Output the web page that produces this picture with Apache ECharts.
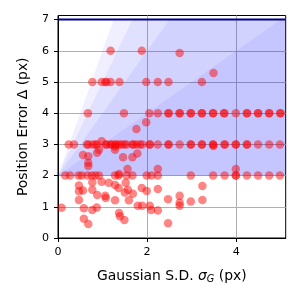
<!DOCTYPE html>
<html><head><meta charset="utf-8">
<script src="https://cdn.jsdelivr.net/npm/echarts@6/dist/echarts.min.js"></script>
<style>html,body{margin:0;padding:0;background:#fff}#c{width:300px;height:300px}</style>
</head><body><div id="c"></div>
<script>
// ---- data ----
const xTicks = [0, 2, 4];
const yTicks = [0, 1, 2, 3, 4, 5, 6, 7];
const xMax = 5.11, yMax = 7.13;
const baseLevel = 2;      // lower edge of shaded wedges
const capLevel = 7;       // horizontal limit line
const wedgeSlopes = [1, 2, 3, 4];
const xs = [
  1.18,1.88,2.73,3.49,
  0.77,0.98,1.06,1.09,1.18,1.38,1.98,2.24,2.48,3.23,
  0.67,1.48,2.05,2.24,2.48,2.48,2.73,2.73,2.98,2.98,3.23,3.23,3.48,3.48,3.73,3.73,3.99,4.24,4.24,4.49,4.49,4.74,4.74,4.99,4.99,
  1.76,1.98,
  0.24,0.36,0.65,0.68,0.78,0.84,0.88,0.98,1.07,1.09,1.18,1.2,1.28,1.31,1.37,1.43,1.49,1.54,1.67,1.69,1.76,1.84,1.89,2.06,2.06,2.24,2.48,2.48,2.73,2.98,2.98,3.23,3.23,3.48,3.48,3.49,3.74,3.74,3.99,3.99,4.24,4.24,4.49,4.74,4.98,1.28,
  0.56,0.68,0.68,0.68,0.88,0.92,1.28,1.46,1.56,1.67,1.78,1.37,2.24,3.99,
  0.16,0.27,0.46,0.53,0.66,0.76,0.84,0.92,1.28,1.36,1.54,1.67,1.99,2.1,2.24,2.98,3.48,3.74,3.99,3.99,4.24,4.49,4.74,4.98,
  0.08,0.47,0.47,0.47,0.56,0.58,0.58,0.68,0.77,0.77,0.77,0.87,0.88,0.98,1.06,1.07,1.14,1.28,1.28,1.36,1.37,1.39,1.49,1.5,1.52,1.57,1.59,1.68,1.79,1.89,1.88,1.99,2.06,2.09,2.24,2.24,2.47,2.47,2.73,2.73,2.73,2.98,3.24,3.24
];
const ys = [
  6,6,5.93,5.29,
  5,5,5,5,5,5,5,5,5,5,
  4,4,4,4,4,4,4,4,4,4,4,4,4,4,4,4,4,4,4,4,4,4,4,4,4,
  3.49,3.71,
  3,3,3,3,3,3,3,3.1,3,3,3,3,3,3,3,3,3,3,3,3,3,3,3,3,3,3,3,3,3,3,3,3,3,3,3,2.95,3,3,3,3,3,3,3,3,3,2.93,
  2.66,2.62,2.41,2.31,2.73,2.83,2.83,2.59,2.21,2.59,2.71,2.05,2.21,2.21,
  2,2,2,2,2,2,2,2,2,2,2,2,2,2,2,2,2,2,2,2,2,2,2,2,
  0.97,1.68,1.5,1.22,1.52,0.95,0.62,0.45,1.79,1.55,0.9,0.98,1.38,1.8,1.35,1.28,1.77,1.7,1.21,1.6,0.8,0.7,0.58,1.46,1.77,1.55,1.21,1.42,1.03,1.03,1.6,1.51,1.03,0.9,1.57,0.88,1.24,0.47,1.35,1.13,1.03,1.17,1.67,1.22
];
// ---- chart ----
const pts = xs.map((x, i) => [x, ys[i]]);
const wedgeSeries = wedgeSlopes.map(k => ({
  type: 'line', silent: true, symbol: 'none', z: 1,
  data: [[0, baseLevel], [(capLevel - baseLevel) / k, capLevel], [xMax, capLevel]],
  lineStyle: { width: 0, opacity: 0 },
  areaStyle: { origin: baseLevel, color: 'rgba(0,0,255,0.09)' }
}));
const font = 'DejaVu Sans';
const tickFs = 11.1, nameFs = 13.9;
const chart = echarts.init(document.getElementById('c'), null, { renderer: 'canvas' });
chart.setOption({
  animation: false,
  grid: { left: 58, right: 14.3, top: 15.5, bottom: 62, show: true, borderColor: '#000', borderWidth: 1, backgroundColor: 'transparent' },
  xAxis: {
    type: 'value', min: 0, max: xMax, interval: 2,
    axisLine: { onZero: false, lineStyle: { color: '#000', width: 1 } },
    axisTick: { customValues: xTicks, length: 4, lineStyle: { color: '#000' } },
    axisLabel: { customValues: xTicks, margin: 9, color: '#000', fontSize: tickFs, fontFamily: font },
    splitLine: { show: true, lineStyle: { color: '#b0b0b0', width: 1 } },
    name: '{n|Gaussian S.D. }{g|σ}{s|G}{n| (px)}',
    nameLocation: 'middle', nameGap: 30,
    nameTextStyle: { rich: {
      n: { fontSize: nameFs, fontFamily: font, color: '#000' },
      g: { fontSize: nameFs, fontFamily: font, fontStyle: 'italic', color: '#000' },
      s: { fontSize: 9.7, fontFamily: font, fontStyle: 'italic', color: '#000', padding: [6, 0, 0, 0] }
    } }
  },
  yAxis: {
    type: 'value', min: 0, max: yMax, interval: 1,
    axisLine: { show: true, onZero: false, lineStyle: { color: '#000', width: 1 } },
    axisTick: { show: true, customValues: yTicks, length: 4, lineStyle: { color: '#000' } },
    axisLabel: { customValues: yTicks, margin: 9, color: '#000', fontSize: tickFs, fontFamily: font },
    splitLine: { show: true, lineStyle: { color: '#b0b0b0', width: 1 } },
    name: 'Position Error Δ (px)', nameLocation: 'middle', nameGap: 28,
    nameTextStyle: { fontSize: nameFs, fontFamily: font, color: '#000' }
  },
  series: wedgeSeries.concat([
    { type: 'line', silent: true, symbol: 'none', z: 3,
      data: [[0, capLevel], [xMax, capLevel]],
      lineStyle: { color: '#00008b', width: 2 } },
    { type: 'scatter', z: 4, symbolSize: 8.5, data: pts,
      itemStyle: { color: 'rgba(255,0,0,0.6)' } }
  ])
});
</script></body></html>
